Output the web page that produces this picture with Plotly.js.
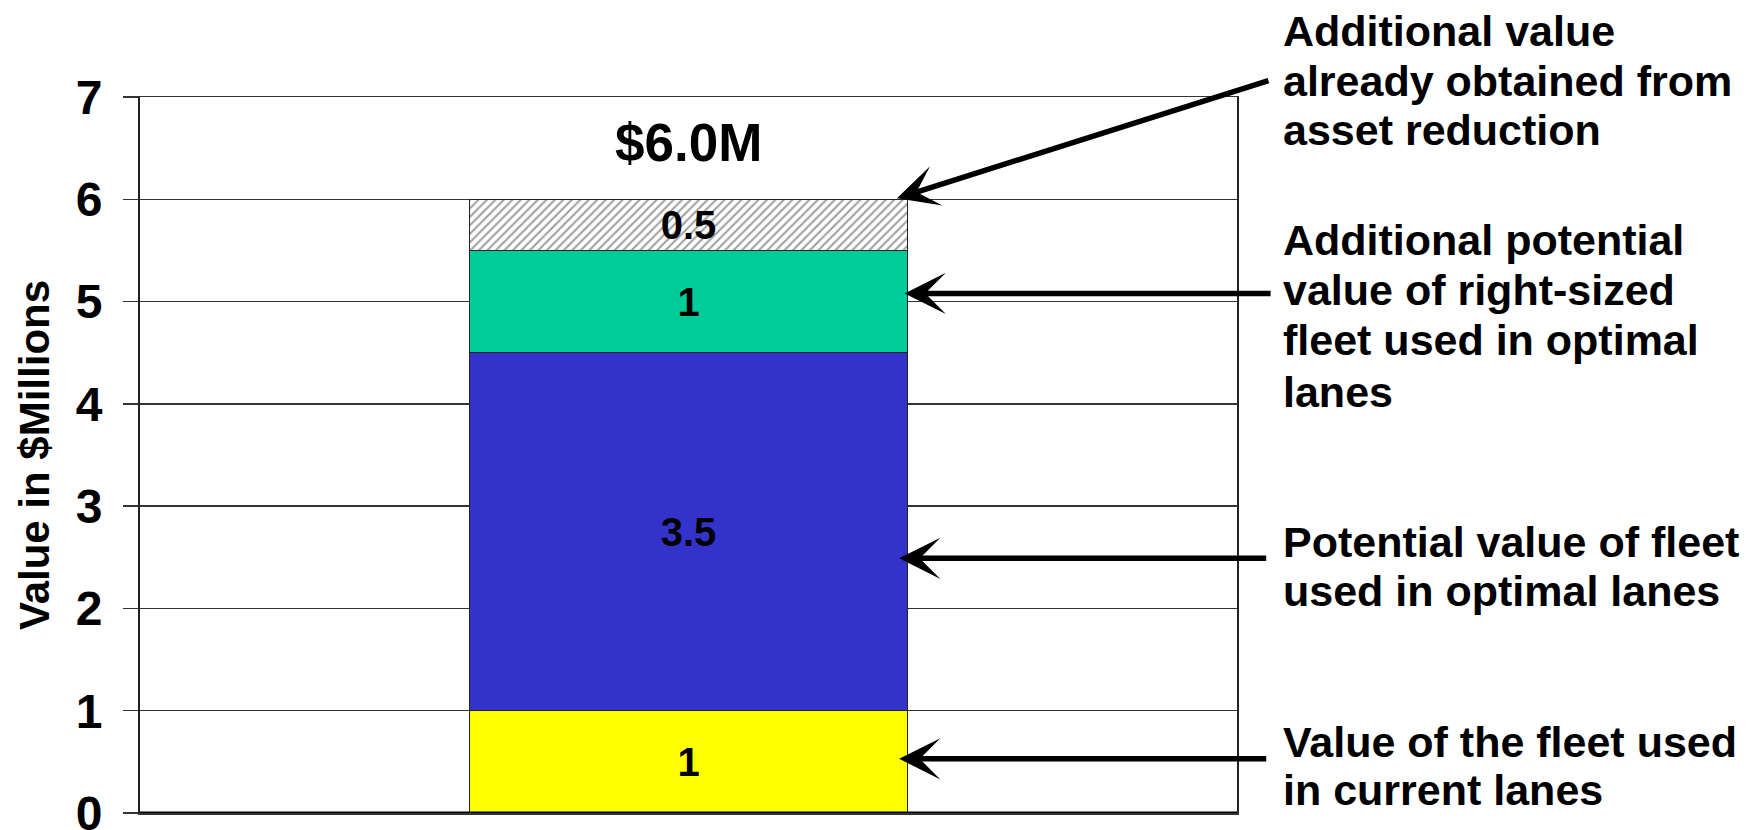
<!DOCTYPE html>
<html>
<head>
<meta charset="utf-8">
<script src="https://cdn.plot.ly/plotly-3.0.1.min.js"></script>
<style>
  html, body { margin: 0; padding: 0; background: #ffffff; }
  #chart { width: 1758px; height: 830px; }
</style>
</head>
<body>
<div id="chart"></div>
<script>
// ---- data ----
const categories = ['Fleet value'];
const segmentNames = [
  'Value of the fleet used in current lanes',
  'Potential value of fleet used in optimal lanes',
  'Additional potential value of right-sized fleet used in optimal lanes',
  'Additional value already obtained from asset reduction'
];
const segmentValues = [1, 3.5, 1, 0.5];
const segmentLabels = ['1', '3.5', '1', '0.5'];
const segmentColors = ['#FFFF00', '#3333CC', '#00CC99', '#FFFFFF'];
const totalLabel = '$6.0M';
const yTickVals = [0, 1, 2, 3, 4, 5, 6, 7];
const yTickText = ['0', '1', '2', '3', '4', '5', '6', '7'];
const yAxisTitle = 'Value in $Millions';
const calloutLines = [
  ['Value of the fleet used', 'in current lanes'],
  ['Potential value of fleet', 'used in optimal lanes'],
  ['Additional potential', 'value of right-sized', 'fleet used in optimal', 'lanes'],
  ['Additional value', 'already obtained from', 'asset reduction']
];
// line positions (y, data units) of each callout line
const calloutLineY = [
  [0.695, 0.225],
  [2.645, 2.175],
  [5.605, 5.115, 4.625, 4.115],
  [7.645, 7.156, 6.68]
];
// arrow tips and tails (data units)
const arrowTipY = [0.53, 2.49, 5.08, 6.01];
const arrowTailY = [0.53, 2.49, 5.08, 7.165];

const FONT = 'Liberation Sans, Arial, Helvetica, sans-serif';
const barWidth = 0.4;
const yMax = 7;

const traces = segmentValues.map((v, i) => {
  const marker = {
    color: segmentColors[i],
    line: { color: '#222222', width: 1 }
  };
  if (i === 3) {
    marker.pattern = { shape: '/', fgcolor: '#a0a0a0', bgcolor: '#ffffff', size: 6, solidity: 0.35, fillmode: 'replace' };
  }
  return {
    type: 'bar',
    name: segmentNames[i],
    x: categories,
    y: [v],
    width: barWidth,
    text: [segmentLabels[i]],
    textposition: 'inside',
    insidetextanchor: 'middle',
    textangle: 0,
    constraintext: 'none',
    textfont: { family: FONT, size: 40, color: '#000000', weight: 'bold' },
    marker: marker,
    hoverinfo: 'skip',
    showlegend: false
  };
});

const total = segmentValues.reduce((a, b) => a + b, 0);

const annotations = [];
// total label above the bar
annotations.push({
  x: 0, y: total + 0.56, xref: 'x', yref: 'y',
  text: totalLabel, showarrow: false,
  xanchor: 'center', yanchor: 'middle',
  font: { family: FONT, size: 53, color: '#000000', weight: 'bold' }
});
// callout text lines
const textX = 1.040;
calloutLines.forEach((lines, k) => {
  lines.forEach((ln, j) => {
    annotations.push({
      x: textX, y: calloutLineY[k][j] / yMax, xref: 'paper', yref: 'paper',
      text: ln, showarrow: false,
      xanchor: 'left', yanchor: 'middle',
      font: { family: FONT, size: 43, color: '#000000', weight: 'bold' }
    });
  });
});
// arrows
const tipX = [0.192, 0.192, 0.197, 0.190];
const tailX = [0.528, 0.528, 0.532, 0.530];
arrowTipY.forEach((ty, k) => {
  annotations.push({
    x: tipX[k], y: ty, xref: 'x', yref: 'y',
    ax: tailX[k], ay: arrowTailY[k], axref: 'x', ayref: 'y',
    text: '', showarrow: true,
    arrowhead: 3, arrowsize: 1.25, arrowwidth: 5.5, arrowcolor: '#000000',
    standoff: 0, startstandoff: 0
  });
});

const layout = {
  width: 1758, height: 830,
  margin: { l: 140, r: 521, t: 97, b: 17, pad: 0 },
  paper_bgcolor: '#ffffff',
  plot_bgcolor: '#ffffff',
  barmode: 'stack',
  bargap: 0,
  font: { family: FONT, color: '#000000' },
  xaxis: {
    type: 'category',
    range: [-0.5, 0.5],
    showticklabels: false,
    ticks: '',
    showgrid: false,
    zeroline: false,
    showline: true,
    linecolor: '#333333',
    linewidth: 1.5,
    mirror: true,
    fixedrange: true
  },
  yaxis: {
    range: [0, yMax],
    tickmode: 'array',
    tickvals: yTickVals,
    ticktext: yTickText,
    ticks: 'outside',
    ticklen: 15,
    tickwidth: 1.5,
    tickcolor: '#333333',
    ticklabelstandoff: 11,
    ticklabeloverflow: 'allow',
    tickfont: { family: FONT, size: 48, color: '#000000', weight: 'bold' },
    showgrid: true,
    gridcolor: '#333333',
    gridwidth: 1.5,
    zeroline: false,
    showline: true,
    linecolor: '#222222',
    linewidth: 2,
    mirror: true,
    title: {
      text: yAxisTitle,
      font: { family: FONT, size: 42, color: '#000000', weight: 'bold' },
      standoff: 13
    },
    fixedrange: true
  },
  shapes: [{
    type: 'line', xref: 'paper', yref: 'y',
    x0: 0, x1: 1, y0: 0, y1: 0,
    line: { color: '#000000', width: 3 },
    layer: 'above'
  }],
  annotations: annotations
};

Plotly.newPlot('chart', traces, layout, { displayModeBar: false, staticPlot: true });
</script>
</body>
</html>
